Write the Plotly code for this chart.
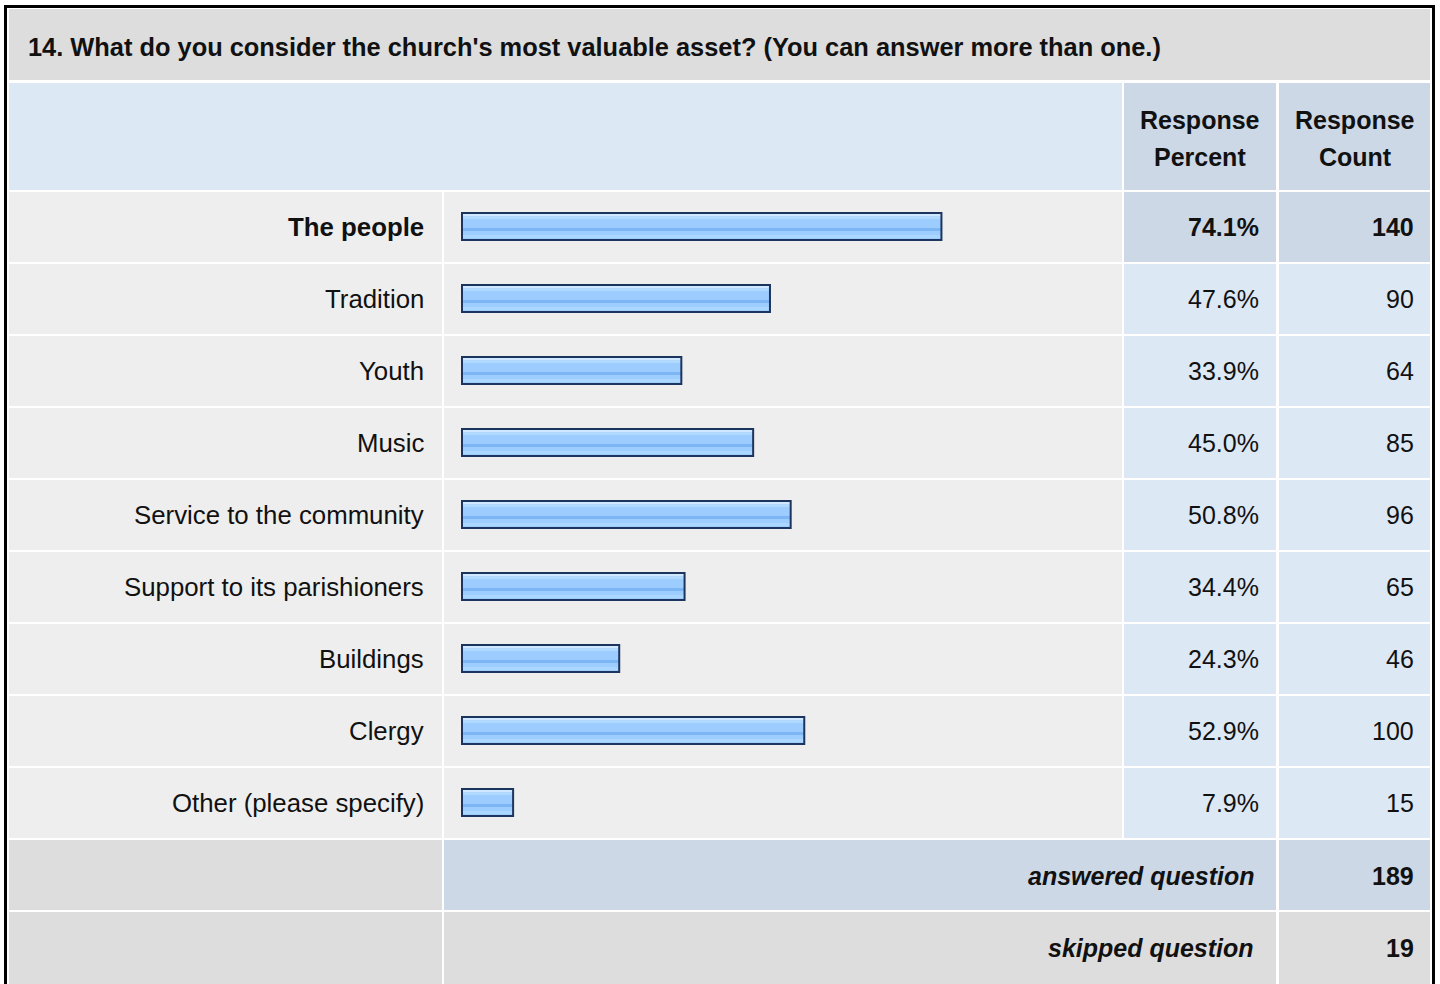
import plotly.graph_objects as go

W, H = 1440, 984

QUESTION = "14. What do you consider the church's most valuable asset? (You can answer more than one.)"
LABELS = [
    "The people",
    "Tradition",
    "Youth",
    "Music",
    "Service to the community",
    "Support to its parishioners",
    "Buildings",
    "Clergy",
    "Other (please specify)",
]
PERCENTS = [74.1, 47.6, 33.9, 45.0, 50.8, 34.4, 24.3, 52.9, 7.9]
COUNTS = [140, 90, 64, 85, 96, 65, 46, 100, 15]
ANSWERED = 189
SKIPPED = 19

FONT = "Liberation Sans, Arial, sans-serif"
FS = 25
GREY = "#dddddd"
ROW_BG = "#eeeeee"
LIGHT_BLUE = "#dde8f5"
MID_BLUE = "#ccd8e6"

# table geometry in pixels
ROW_TOP = 192
ROW_PITCH = 72
ROW_H = 70
COL_LABEL = (9, 442)
COL_BAR = (444, 1122)
COL_PCT = (1124, 1276)
COL_CNT = (1279, 1430)


def px(x):
    return x / W


def py(y):
    return 1 - y / H


shapes = []


def cell(x0, x1, y0, y1, color):
    shapes.append(dict(
        type="rect", xref="paper", yref="paper", layer="below",
        x0=px(x0), x1=px(x1), y0=py(y1), y1=py(y0),
        fillcolor=color, line=dict(width=0),
    ))


# outer frame
cell(4, 1435, 5, 1000, "#000000")
cell(7, 1432, 8, 1000, "#ffffff")
# title row and header row
cell(9, 1430, 9, 80, GREY)
cell(9, COL_BAR[1], 83, 190, LIGHT_BLUE)
cell(*COL_PCT, 83, 190, MID_BLUE)
cell(*COL_CNT, 83, 190, MID_BLUE)

for i in range(len(LABELS)):
    y0 = ROW_TOP + ROW_PITCH * i
    y1 = y0 + ROW_H
    side = MID_BLUE if i == 0 else LIGHT_BLUE
    cell(*COL_LABEL, y0, y1, ROW_BG)
    cell(*COL_BAR, y0, y1, ROW_BG)
    cell(*COL_PCT, y0, y1, side)
    cell(*COL_CNT, y0, y1, side)

ans_top = ROW_TOP + ROW_PITCH * len(LABELS)
skip_top = ans_top + ROW_PITCH
cell(*COL_LABEL, ans_top, ans_top + ROW_H, GREY)
cell(COL_BAR[0], COL_PCT[1], ans_top, ans_top + ROW_H, MID_BLUE)
cell(*COL_CNT, ans_top, ans_top + ROW_H, MID_BLUE)
cell(*COL_LABEL, skip_top, 1000, GREY)
cell(COL_BAR[0], COL_PCT[1], skip_top, 1000, GREY)
cell(*COL_CNT, skip_top, 1000, GREY)

# bars: a flat fill, a few gloss stripes, then the dark outline on top
# (offsets in px relative to the row centre, converted to category units)
def band(color, top, height, outline=False):
    return go.Bar(
        y=LABELS, x=PERCENTS, orientation="h",
        width=height / ROW_PITCH, offset=top / ROW_PITCH,
        marker=dict(
            color="rgba(0,0,0,0)" if outline else color,
            line=dict(color=color if outline else "rgba(0,0,0,0)", width=2 if outline else 0),
        ),
        hoverinfo="skip", showlegend=False,
    )


fig = go.Figure()
fig.add_trace(band("#9dcdff", -14, 27))
fig.add_trace(band("#d0e8ff", -13, 2))
fig.add_trace(band("#b1d9ff", -11, 3))
fig.add_trace(band("#7db6f5", 1, 3))
fig.add_trace(band("#abd6ff", 8, 3))
fig.add_trace(band("#1c355f", -14, 27, outline=True))

annotations = [dict(
    text=f"<b>{QUESTION}</b>", x=px(26), y=py(47), xref="paper", yref="paper",
    xanchor="left", yanchor="middle", showarrow=False, font=dict(size=FS + 0.4),
)]
for word, yy in (("Response", 120), ("Percent", 157)):
    annotations.append(dict(text=f"<b>{word}</b>", x=px(1200), y=py(yy), xref="paper", yref="paper",
                            xanchor="center", yanchor="middle", showarrow=False))
for word, yy in (("Response", 120), ("Count", 157)):
    annotations.append(dict(text=f"<b>{word}</b>", x=px(1355), y=py(yy), xref="paper", yref="paper",
                            xanchor="center", yanchor="middle", showarrow=False))

for i, (lab, pct, cnt) in enumerate(zip(LABELS, PERCENTS, COUNTS)):
    fmt = (lambda s: f"<b>{s}</b>") if i == 0 else (lambda s: s)
    annotations.append(dict(text=fmt(lab), x=px(426), y=lab, xref="paper", yref="y",
                            xanchor="right", yanchor="middle", showarrow=False,
                            font=dict(size=FS + 0.8)))
    annotations.append(dict(text=fmt(f"{pct:.1f}%"), x=px(1261), y=lab, xref="paper", yref="y",
                            xanchor="right", yanchor="middle", showarrow=False))
    annotations.append(dict(text=fmt(str(cnt)), x=px(1416), y=lab, xref="paper", yref="y",
                            xanchor="right", yanchor="middle", showarrow=False))

for text, val, top in (("answered question", ANSWERED, ans_top), ("skipped question", SKIPPED, skip_top)):
    yy = py(top + ROW_H / 2 + 1)
    annotations.append(dict(text=f"<b><i>{text}</i></b>", x=px(1256), y=yy, xref="paper", yref="paper",
                            xanchor="right", yanchor="middle", showarrow=False))
    annotations.append(dict(text=f"<b>{val}</b>", x=px(1416), y=yy, xref="paper", yref="paper",
                            xanchor="right", yanchor="middle", showarrow=False))

# x: 0% sits at 462px, 6.47px per percent
x0_px, per = 462, 6.47
fig.update_layout(
    width=W, height=H,
    margin=dict(l=0, r=0, t=0, b=0),
    paper_bgcolor="white", plot_bgcolor="rgba(0,0,0,0)",
    barmode="overlay",
    font=dict(family=FONT, size=FS, color="#111111"),
    xaxis=dict(
        domain=[px(COL_BAR[0]), px(COL_BAR[1])],
        range=[(COL_BAR[0] - x0_px) / per, (COL_BAR[1] - x0_px) / per],
        visible=False, fixedrange=True,
    ),
    yaxis=dict(
        domain=[py(ROW_TOP - 1 + ROW_PITCH * len(LABELS)), py(ROW_TOP - 1)],
        type="category", categoryorder="array", categoryarray=LABELS,
        range=[len(LABELS) - 0.5, -0.5],
        visible=False, fixedrange=True,
    ),
    shapes=shapes,
    annotations=annotations,
    showlegend=False,
)

fig.write_html("out.html", config={"displayModeBar": False},
               post_script="document.body.style.margin='0';")
